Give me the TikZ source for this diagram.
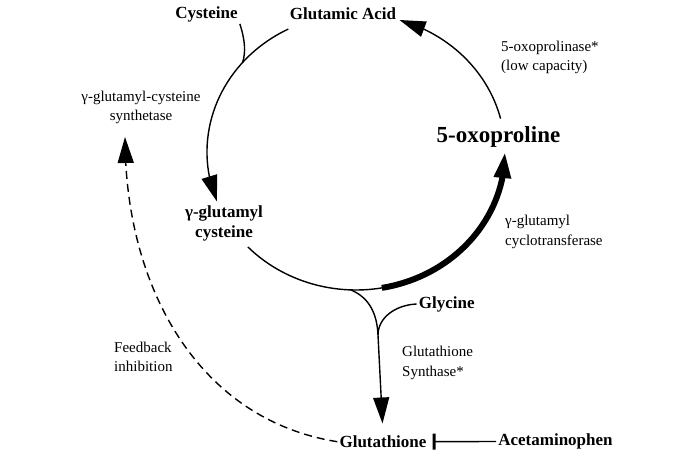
\documentclass[tikz,border=0pt]{standalone}
\usepackage{fontspec}
\setmainfont{Liberation Serif}
\usetikzlibrary{arrows.meta,bending}

\tikzset{
  enz/.style={font=\fontsize{15}{19.5}\selectfont,inner sep=2pt},
  cmpd/.style={font=\fontsize{17}{20}\selectfont\bfseries,inner sep=2pt},
  rxn/.style={line width=1.4pt},
  head/.style={-{Triangle[length=26pt,width=16pt]}},
  cyc/.style={x radius=149,y radius=138}
}

\begin{document}
\begin{tikzpicture}[x=1pt,y=1pt]
\useasboundingbox (0,0) rectangle (689,-462);
\coordinate (O) at (356,-152);
% compounds
\node[cmpd] (Cys) at (206.5,-14) {Cysteine};
\node[cmpd] (GA) at (343,-14) {Glutamic Acid};
\node[cmpd,font=\fontsize{23}{26}\selectfont\bfseries] (OxP) at (498.5,-137) {5-oxoproline};
\node[cmpd,align=center] (GGC) at (224,-223) {γ-glutamyl\\cysteine};
\node[cmpd] (Gly) at (446.7,-304) {Glycine};
\node[cmpd] (GSH) at (383,-441.7) {Glutathione};
\node[cmpd] (Acet) at (555.5,-441.5) {Acetaminophen};
% enzymes
\node[enz,align=left,anchor=west] (Oxase) at (499,-57.5) {5-oxoprolinase*\\(low capacity)};
\node[enz,align=center] (GCS) at (141,-107.5) {γ-glutamyl-cysteine\\synthetase};
\node[enz,align=left,anchor=west] (GCT) at (503,-232) {γ-glutamyl\\cyclotransferase};
\node[enz,align=left,anchor=west] (GS) at (400,-363) {Glutathione\\Synthase*};
\node[enz,align=left,anchor=west] (FB) at (112,-357) {Feedback\\inhibition};
% points on the cycle
\path (O) ++(117:149 and 138) coordinate (T1)
      (O) ++(139.6:149 and 138) coordinate (Jc)
      (O) ++(223.5:149 and 138) coordinate (B1)
      (O) ++(268:149 and 138) coordinate (Jb)
      (O) ++(280:149 and 138) coordinate (B2)
      (O) ++(14:149 and 138) coordinate (R1);
\coordinate (Jg) at (378,-335);
\coordinate (FBtip) at (125,-137);
% cycle
\draw[rxn,head] (T1) arc[start angle=117,end angle=201,cyc];
\draw[rxn] (B1) arc[start angle=223.5,end angle=282,cyc];
\draw[line width=6pt,head] (B2) arc[start angle=280,end angle=360,cyc];
\draw[rxn,head] (R1) arc[start angle=14,end angle=73,cyc];
% side branches
\draw[rxn] (Cys.south east) .. controls (245,-40) and (246,-52) .. (Jc);
\draw[rxn] (Gly.west) .. controls (395,-305) and (378,-318) .. (Jg);
\draw[rxn,head,shorten >=10pt] (Jb) .. controls (368,-297) and (377,-312) .. (Jg) -- (GSH.north);
%\draw[rxn] (Jb) -- (Jg);
\draw[rxn,dash pattern=on 8pt off 5pt,head] (GSH.west) .. controls (200,-420) and (125,-290) .. (FBtip);
\draw[rxn,shorten >=4pt,-{Bar[width=16pt,line width=3pt]}] (Acet.west) -- (GSH.east);
\end{tikzpicture}
\end{document}
